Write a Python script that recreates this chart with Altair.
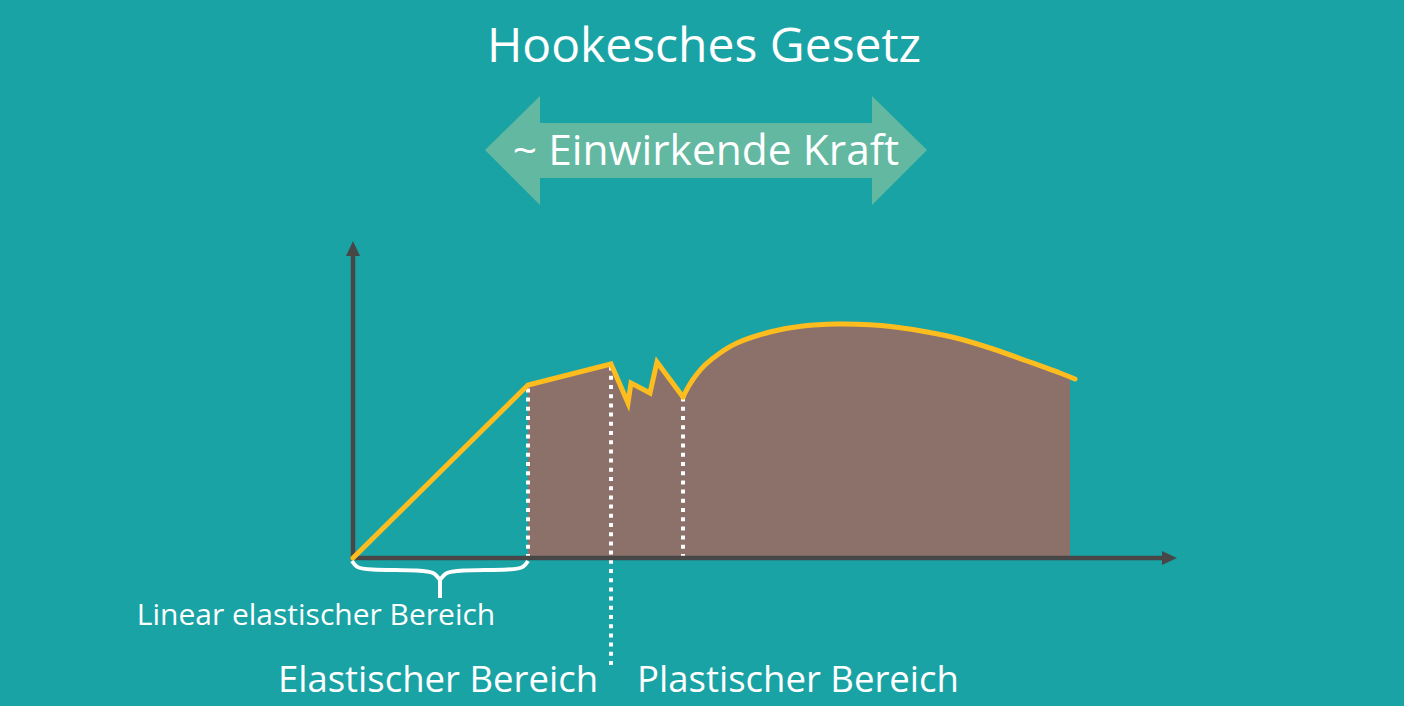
import altair as alt
import pandas as pd

# ---------------- data (diagram units: strain →, stress ↑, origin at the axes' corner) ----------------
# stress-strain curve
strain = [0, 175, 258, 275, 278, 297, 304, 330, 337, 344, 352, 367, 384, 417, 450, 484, 517, 540, 574, 607, 640, 674, 707, 722]
stress = [0, 173, 194, 155, 175, 165, 196, 161, 174, 184, 193, 205, 215, 226, 232, 234, 233.3, 231.2, 226, 219, 209, 197, 185, 179]
yield_strain = 330          # end of the jagged (yield) part, start of the smooth hardening curve
fill_start = 175            # plastic-area fill starts at end of the linear part
fill_end_strain = 717       # right edge of the brown fill
fill_end_stress = 181

# vertical dotted markers: (strain, bottom stress, top stress)
marker_x = [175, 258, 330]
marker_lo = [0, -107, 0]
marker_hi = [173, 194, 161]

# axes extents
x_axis_end = 809
y_axis_end = 302
head_len = 15
head_half = 7

# brace under the linear-elastic part
brace_left_x = [-1, 3, 11, 72, 82, 87]
brace_right_x = [175, 171, 163, 102, 92, 87]
brace_y = [-3, -9, -12, -12, -15, -22]
brace_stem = [-22, -40]

# double arrow banner "~ Einwirkende Kraft"
banner_x = [132, 187, 187, 519, 519, 574]
banner_top = [408, 462, 435, 435, 462, 408]
banner_bot = [408, 353, 380, 380, 353, 408]

title = "Hookesches Gesetz"
banner_text = "~ Einwirkende Kraft"
label_linear = "Linear elastischer Bereich"
label_elastic = "Elastischer Bereich"
label_plastic = "Plastischer Bereich"

# ---------------- styling ----------------
W, H = 1404, 706
BG = "#1aa3a5"
BANNER = "#62b8a0"
BROWN = "#8b7169"
YELLOW = "#fdbd1f"
AXIS = "#474747"
WHITE = "#ffffff"
FONT = "Open Sans"

xs = alt.Scale(domain=[-353, W - 353], nice=False, zero=False)
ys = alt.Scale(domain=[558 - H, 558], nice=False, zero=False)


def X(f="x"):
    return alt.X(f"{f}:Q", scale=xs, axis=None)


def Y(f="y"):
    return alt.Y(f"{f}:Q", scale=ys, axis=None, stack=None)


curve = pd.DataFrame({"x": strain, "y": stress, "i": range(len(strain))})
elastic = curve[curve.x <= yield_strain]
smooth = curve[curve.x >= yield_strain]

area1 = curve[(curve.x >= fill_start) & (curve.x <= yield_strain)]
area2 = pd.concat([
    smooth[smooth.x <= fill_end_strain],
    pd.DataFrame({"x": [fill_end_strain], "y": [fill_end_stress], "i": [99]}),
])
area1 = area1.assign(b=0)
area2 = area2.assign(b=0)

banner = alt.Chart(pd.DataFrame({"x": banner_x, "y": banner_top, "y2": banner_bot})).mark_area(
    color=BANNER, interpolate="linear"
).encode(x=X(), y=Y(), y2="y2:Q")

fill1 = alt.Chart(area1).mark_area(color=BROWN, interpolate="linear").encode(
    x=X(), y=Y(), y2="b:Q")
fill2 = alt.Chart(area2).mark_area(color=BROWN, interpolate="catmull-rom").encode(
    x=X(), y=Y(), y2="b:Q")

markers = alt.Chart(pd.DataFrame({"x": marker_x, "lo": marker_lo, "hi": marker_hi})).mark_rule(
    color=WHITE, strokeWidth=4, strokeDash=[4, 5.2]
).encode(x=X(), y=Y("lo"), y2="hi:Q")

xaxis = alt.Chart(pd.DataFrame({"x": [-2], "x2": [x_axis_end], "y": [0]})).mark_rule(
    color=AXIS, strokeWidth=4.5).encode(x=X(), x2="x2:Q", y=Y())
yaxis = alt.Chart(pd.DataFrame({"x": [0], "y": [-2], "y2": [y_axis_end]})).mark_rule(
    color=AXIS, strokeWidth=4.5).encode(x=X(), y=Y(), y2="y2:Q")

xhead = alt.Chart(pd.DataFrame({
    "x": [x_axis_end, x_axis_end + head_len], "y": [head_half, 0], "y2": [-head_half, 0]
})).mark_area(color=AXIS).encode(x=X(), y=Y(), y2="y2:Q")
yhead = alt.Chart(pd.DataFrame({
    "y": [y_axis_end, y_axis_end + head_len], "x": [-head_half, 0], "x2": [head_half, 0]
})).mark_area(color=AXIS, orient="horizontal").encode(y=Y(), x=alt.X("x:Q", scale=xs, axis=None, stack=None), x2="x2:Q")

line1 = alt.Chart(elastic).mark_line(
    color=YELLOW, strokeWidth=5, interpolate="linear", strokeJoin="miter", strokeCap="round"
).encode(x=X(), y=Y(), order="i:Q")
line2 = alt.Chart(smooth).mark_line(
    color=YELLOW, strokeWidth=5, interpolate="catmull-rom", strokeCap="round"
).encode(x=X(), y=Y(), order="i:Q")

brace_df = pd.DataFrame({
    "x": brace_left_x + brace_right_x,
    "y": brace_y + brace_y,
    "half": ["l"] * len(brace_y) + ["r"] * len(brace_y),
    "i": list(range(len(brace_y))) * 2,
})
brace = alt.Chart(brace_df).mark_line(color=WHITE, strokeWidth=4, interpolate="basis").encode(
    x=X(), y=Y(), detail="half:N", order="i:Q")
stem = alt.Chart(pd.DataFrame({"x": [87], "y": [brace_stem[0]], "y2": [brace_stem[1]]})).mark_rule(
    color=WHITE, strokeWidth=4).encode(x=X(), y=Y(), y2="y2:Q")


def label(text, px, py, size):
    return alt.Chart(pd.DataFrame({"t": [text]})).mark_text(
        font=FONT, fontSize=size, color=WHITE, align="center", baseline="alphabetic"
    ).encode(text="t:N", x=alt.value(px), y=alt.value(py))


texts = [
    label(title, 704, 62, 48),
    label(banner_text, 706, 165, 42.5),
    label(label_linear, 316, 625, 30),
    label(label_elastic, 438, 692, 36.5),
    label(label_plastic, 798, 692, 36.5),
]

chart = alt.layer(
    banner, fill1, fill2, markers, xaxis, yaxis, xhead, yhead, line1, line2, brace, stem, *texts
).properties(
    width=W, height=H, background=BG, padding=0,
    autosize=alt.AutoSizeParams(type="none"),
).configure_view(stroke=None)

chart.save("out.html", embed_options={"renderer": "svg", "actions": False})
